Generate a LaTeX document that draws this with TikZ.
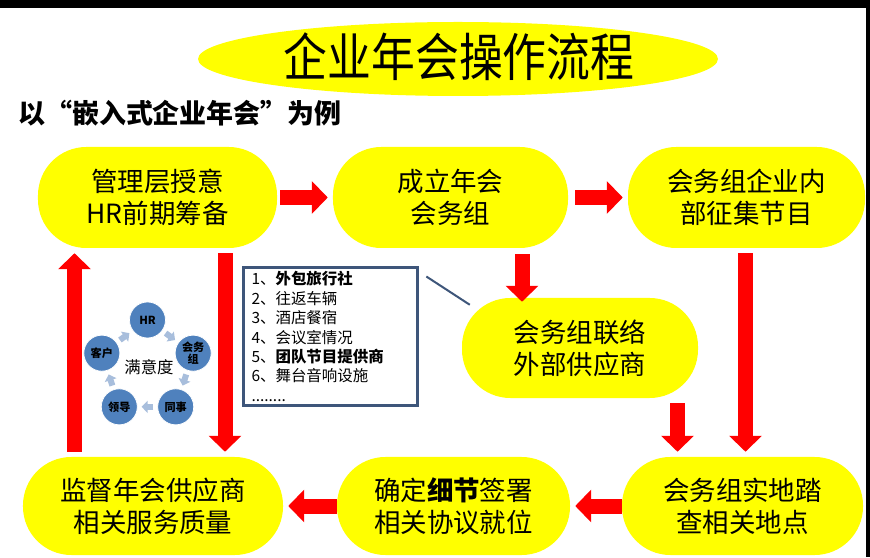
\documentclass[tikz,border=0pt]{standalone}
\usepackage{fontspec}
\setmainfont{Noto Sans CJK SC}
\newfontfamily\titlefont[FakeStretch=0.85]{Noto Sans CJK SC}
\usetikzlibrary{arrows.meta, positioning, calc}
\definecolor{flowyellow}{RGB}{255, 255, 0}
\definecolor{flowred}{RGB}{255, 0, 0}
\definecolor{slateblue}{RGB}{62, 86, 122}
\definecolor{cycleblue}{RGB}{79, 129, 189}
\definecolor{cyclepale}{RGB}{168, 190, 220}

\begin{document}
\begin{tikzpicture}[x=0.03cm, y=0.03cm,
  stepnode/.style={rectangle, rounded corners=1.45cm, fill=flowyellow, align=center,
    inner sep=0pt, minimum height=3.03cm, font=\fontsize{22.6pt}{27.2pt}\selectfont},
  bigarrow/.style={flowred, line width=0.45cm, -{Triangle[length=0.48cm, width=0.96cm]}},
  cyclenode/.style={circle, fill=cycleblue, draw=white, line width=0.6pt, minimum size=1.08cm,
    inner sep=0pt, align=center, font=\fontsize{9.5pt}{10pt}\selectfont\bfseries},
  cyclelink/.style={cyclepale, line width=0.18cm, -{Triangle[length=0.18cm, width=0.36cm]},
    shorten <=0.12cm, shorten >=0.12cm}]
  \useasboundingbox (0,0) rectangle (870,557);
  \fill[white] (0,0) rectangle (870,557);
  \fill[black] (0,549) rectangle (870,557);
  \fill[black] (866,0) rectangle (870,557);

  % title
  \fill[flowyellow] (458,498) ellipse (260 and 37);
  \node[font=\titlefont\fontsize{44pt}{48pt}\selectfont] (title) at (459,500) {企业年会操作流程};
  \node[anchor=west, inner sep=0pt, font=\fontsize{23pt}{25pt}\selectfont\bfseries] (subtitle)
    at (18,444) {以“嵌入式企业年会”为例};

  % steps
  \node[stepnode, minimum width=7.17cm] (auth) at (157.5,359.5) {管理层授意\\HR前期筹备};
  \node[stepnode, minimum width=7.05cm] (team) at (450.5,359.5) {成立年会\\会务组};
  \node[stepnode, minimum width=7.11cm] (program) at (746.5,359.5) {会务组企业内\\部征集节目};
  \node[stepnode, minimum width=7.08cm, minimum height=3cm] (supplier) at (580,209) {会务组联络\\外部供应商};
  \node[stepnode, minimum width=7.23cm, minimum height=2.94cm] (survey) at (742.5,51) {会务组实地踏\\查相关地点};
  \node[stepnode, minimum width=6.99cm, minimum height=2.94cm] (contract) at (453.5,51) {确定\textbf{细节}签署\\相关协议就位};
  \node[stepnode, minimum width=7.8cm, minimum height=2.94cm] (monitor) at (153,51) {监督年会供应商\\相关服务质量};

  \coordinate (upline) at (74.5,0);
  \coordinate (downline) at (225,0);
  \coordinate (linkline) at (522,0);
  \coordinate (visitline) at (677.5,0);
  \coordinate (longline) at (745.5,0);

  \draw[bigarrow, shorten <=0.09cm, shorten >=0.15cm] (auth) -- (team);
  \draw[bigarrow, shorten <=0.21cm, shorten >=0.15cm] (team) -- (program);
  \draw[bigarrow, shorten >=0.15cm] (survey) -- (contract);
  \draw[bigarrow, shorten >=0.15cm] (contract) -- (monitor);
  \draw[bigarrow, shorten <=0.15cm, shorten >=0.15cm] (monitor.north -| upline) -- (auth.south -| upline);
  \draw[bigarrow, shorten <=0.15cm, shorten >=0.15cm] (auth.south -| downline) -- (monitor.north -| downline);
  \draw[bigarrow, shorten <=0.18cm, shorten >=-0.12cm] (team.south -| linkline) -- (supplier.north -| linkline);
  \draw[bigarrow, shorten <=0.15cm, shorten >=0.15cm] (supplier.south -| visitline) -- (survey.north -| visitline);
  \draw[bigarrow, shorten <=0.15cm, shorten >=0.15cm] (program.south -| longline) -- (survey.north -| longline);

  % supplier list
  \node[draw=slateblue, line width=0.09cm, inner xsep=0.25cm, inner ysep=0pt, text width=4.74cm,
    minimum height=4.11cm, align=left, font=\fontsize{13.2pt}{16.6pt}\selectfont] (supplies)
    at (330.5,220.5) {1、\textbf{外包旅行社}\\2、往返车辆\\3、酒店餐宿\\4、会议室情况\\
      5、\textbf{团队节目提供商}\\6、舞台音响设施\\........};
  \draw[slateblue, line width=0.06cm] ($(supplies.north east)+(7,-10)$) -- ($(supplier.north west)+(8,-7)$);

  % satisfaction cycle
  \coordinate (cyc) at (147.5,189);
  \foreach \name/\ang/\txt in {hr/90/HR, wz/18/{会务\\组}, ts/-54/同事, ld/-126/领导, kh/162/客户}
    \node[cyclenode] (\name) at ($(cyc)+(\ang:48)$) {\txt};
  \foreach \a/\b in {hr/wz, wz/ts, ts/ld, ld/kh, kh/hr}
    \draw[cyclelink] (\a) -- (\b);
  \node[font=\fontsize{14pt}{15pt}\selectfont] (satis) at (149,190) {满意度};
\end{tikzpicture}
\end{document}
